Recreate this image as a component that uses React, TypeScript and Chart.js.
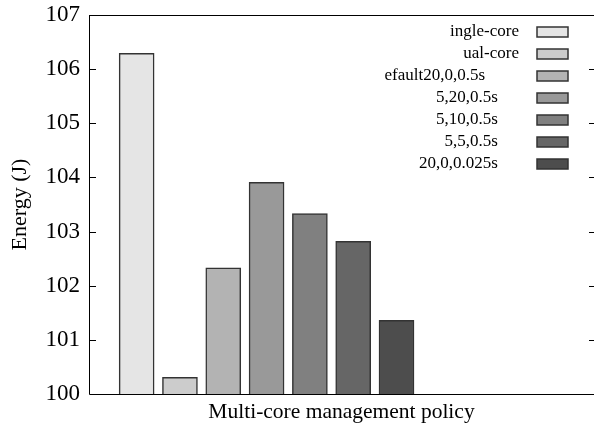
import { useEffect, useRef } from 'react';
import { Chart, registerables } from 'chart.js';

Chart.register(...registerables);

const policies = [
  'ingle-core',
  'ual-core',
  'efault20,0,0.5s        ',
  '5,20,0.5s     ',
  '5,10,0.5s     ',
  '5,5,0.5s     ',
  '20,0,0.025s     ',
];
const energy = [106.29, 100.31, 102.33, 103.91, 103.33, 102.82, 101.36];
const fills = ['#e5e5e5', '#cccccc', '#b3b3b3', '#999999', '#808080', '#666666', '#4d4d4d'];
const yMin = 100;
const yMax = 107;
const xTitle = 'Multi-core management policy';
const yTitle = 'Energy (J)';

const FONT = "'Liberation Serif', 'Times New Roman', serif";

const framePlugin = {
  id: 'frame',
  afterDraw(chart: any) {
    const { ctx, chartArea } = chart;
    const { left, right, top, bottom } = chartArea;
    const yScale = chart.scales.y;
    ctx.save();
    ctx.strokeStyle = '#000';
    ctx.lineWidth = 1;
    ctx.beginPath();
    ctx.moveTo(left + 0.5, top + 0.5);
    ctx.lineTo(right, top + 0.5);
    ctx.moveTo(left + 0.5, top);
    ctx.lineTo(left + 0.5, bottom + 0.5);
    ctx.lineTo(right, bottom + 0.5);
    yScale.ticks.forEach((t: any) => {
      if (t.value === yMin || t.value === yMax) return;
      const y = Math.round(yScale.getPixelForValue(t.value)) + 0.5;
      ctx.moveTo(left, y);
      ctx.lineTo(left + 7, y);
      ctx.moveTo(right - 5, y);
      ctx.lineTo(right, y);
    });
    ctx.stroke();

    // legend
    ctx.font = `17px ${FONT}`;
    ctx.textAlign = 'right';
    ctx.textBaseline = 'middle';
    chart.data.datasets.forEach((ds: any, i: number) => {
      const cy = 32 + 22 * i;
      ctx.fillStyle = '#000';
      ctx.fillText(ds.label, 519, cy);
      ctx.fillStyle = ds.backgroundColor;
      ctx.fillRect(537, cy - 5, 31, 10);
      ctx.strokeStyle = '#333';
      ctx.lineWidth = 1.5;
      ctx.strokeRect(537, cy - 5, 31, 10);
    });
    ctx.restore();
  },
};

export default function App() {
  const ref = useRef<HTMLCanvasElement | null>(null);
  useEffect(() => {
    document.body.style.margin = '0';
    const chart = new Chart(ref.current as HTMLCanvasElement, {
      type: 'bar',
      data: {
        datasets: policies.map((p, i) => ({
          label: p,
          data: [{ x: i + 1, y: energy[i] }],
          backgroundColor: fills[i],
          borderColor: '#333',
          borderWidth: 1.5,
          borderSkipped: 'bottom',
          grouped: false,
          barThickness: 35,
        })),
      },
      options: {
        animation: false,
        responsive: false,
        maintainAspectRatio: false,
        layout: { padding: { top: 15, right: 0, left: 0, bottom: 0 } },
        plugins: { legend: { display: false }, tooltip: { enabled: false } },
        scales: {
          x: {
            type: 'linear',
            offset: false,
            min: -0.1,
            max: 11.56,
            ticks: { display: false },
            grid: { display: false },
            border: { display: false },
            title: {
              display: true,
              text: xTitle,
              color: '#000',
              font: { family: FONT, size: 21.5 },
              padding: { top: 0, bottom: 5 },
            },
            afterFit: (s: any) => {
              s.height = 36;
              s.paddingLeft = 0;
              s.paddingRight = 0;
            },
          },
          y: {
            min: yMin,
            max: yMax,
            ticks: {
              stepSize: 1,
              color: '#000',
              padding: 1,
              font: { family: FONT, size: 23 },
            },
            grid: { display: false },
            border: { display: false },
            title: {
              display: true,
              text: yTitle,
              color: '#000',
              font: { family: FONT, size: 22 },
              padding: { top: 7, bottom: 0 },
            },
            afterFit: (s: any) => {
              s.width = 89;
              s.paddingTop = 0;
              s.paddingBottom = 0;
            },
          },
        },
      },
      plugins: [framePlugin],
    });
    return () => chart.destroy();
  }, []);
  return (
    <div style={{ position: 'absolute', left: 0, top: 0, width: 594, height: 430 }}>
      <canvas ref={ref} width={594} height={430} style={{ width: 594, height: 430 }} />
    </div>
  );
}
